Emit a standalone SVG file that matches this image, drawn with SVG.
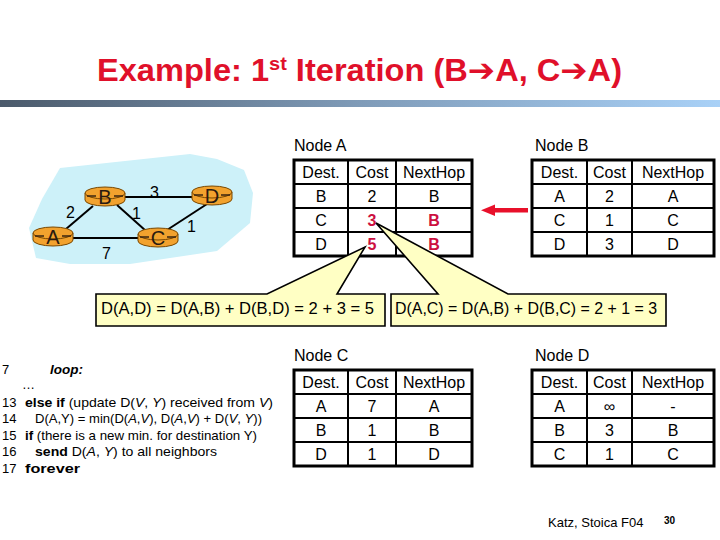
<svg xmlns="http://www.w3.org/2000/svg" width="720" height="540" viewBox="0 0 720 540">
<defs>
<linearGradient id="bar" x1="0" y1="0" x2="1" y2="0">
<stop offset="0" stop-color="#4b5a6b"/>
<stop offset="0.5" stop-color="#7f9bb8"/>
<stop offset="1" stop-color="#a9d1f7"/>
</linearGradient>
<style>
text{font-family:"Liberation Sans",Arial,sans-serif;fill:#000}
.t{font-size:16px;text-anchor:middle}
.r{font-size:16px;text-anchor:middle;font-weight:bold;fill:#cc1040}
.lbl{font-size:16px}
.outer{fill:#fff;stroke:#000;stroke-width:3}
.inner{stroke:#000;stroke-width:2}
.code{font-size:13px}
.link{stroke:#000;stroke-width:2;fill:none}
.rt{fill:#f2a22e;stroke:#7a4800;stroke-width:1}
.rl{font-size:20px;text-anchor:middle;fill:#2a1a10}
.dash{stroke:#3a2410;stroke-width:1.5}
.callout{fill:#ffffc4;stroke:#000;stroke-width:1.6}
</style>
</defs>
<rect width="720" height="540" fill="#fff"/>

<g id="title">
<text x="97" y="81" font-size="31" font-weight="bold" style="fill:#e0102a" textLength="525" lengthAdjust="spacingAndGlyphs">Example: 1<tspan font-size="19" dy="-11">st</tspan><tspan dy="11"> Iteration (B</tspan><tspan font-family="DejaVu Sans">➔</tspan>A, C<tspan font-family="DejaVu Sans">➔</tspan>A)</text>
<rect x="0" y="100" width="720" height="7" fill="url(#bar)"/>
</g>

<g id="network">
<path d="M60,168 L190,154 L217,159 L244,170 L253,193 L250,223 L217,251 L130,264 L70,264 L36,258 L29,228 L42,199 Z" fill="#cdf1f9"/>
<g id="links">
<line class="link" x1="66" y1="229" x2="93" y2="206"/>
<line class="link" x1="125" y1="197" x2="193" y2="197"/>
<line class="link" x1="117" y1="205" x2="146" y2="231"/>
<line class="link" x1="72" y1="238" x2="139" y2="238"/>
<line class="link" x1="167" y1="230" x2="207" y2="204"/>
</g>
<g id="router-A">
<path class="rt" d="M33,233 L33,240 A20,6 0 0 0 73,240 L73,233 Z"/>
<ellipse class="rt" cx="53" cy="233" rx="20" ry="6"/>
<line class="dash" x1="35" y1="236" x2="44" y2="236"/><line class="dash" x1="62" y1="236" x2="71" y2="236"/>
<text class="rl" x="53" y="244">A</text>
</g>
<g id="router-B">
<path class="rt" d="M85,193 L85,200 A20,6 0 0 0 125,200 L125,193 Z"/>
<ellipse class="rt" cx="105" cy="193" rx="20" ry="6"/>
<line class="dash" x1="87" y1="196" x2="96" y2="196"/><line class="dash" x1="114" y1="196" x2="123" y2="196"/>
<text class="rl" x="105" y="204">B</text>
</g>
<g id="router-C">
<path class="rt" d="M138,234 L138,241 A20,6 0 0 0 178,241 L178,234 Z"/>
<ellipse class="rt" cx="158" cy="234" rx="20" ry="6"/>
<line class="dash" x1="140" y1="237" x2="149" y2="237"/><line class="dash" x1="167" y1="237" x2="176" y2="237"/>
<text class="rl" x="158" y="245">C</text>
</g>
<g id="router-D">
<path class="rt" d="M192,192 L192,199 A20,6 0 0 0 232,199 L232,192 Z"/>
<ellipse class="rt" cx="212" cy="192" rx="20" ry="6"/>
<line class="dash" x1="194" y1="195" x2="203" y2="195"/><line class="dash" x1="221" y1="195" x2="230" y2="195"/>
<text class="rl" x="212" y="203">D</text>
</g>
<g id="weights">
<text class="lbl" x="66" y="218">2</text>
<text class="lbl" x="150" y="198">3</text>
<text class="lbl" x="132" y="219">1</text>
<text class="lbl" x="187" y="232">1</text>
<text class="lbl" x="102" y="259">7</text>
</g>
</g>

<g id="table-A">
<text class="lbl" x="294" y="151">Node A</text>
<rect class="outer" x="294" y="160" width="178" height="96"/>
<line class="inner" x1="294" y1="184" x2="472" y2="184"/>
<line class="inner" x1="294" y1="208" x2="472" y2="208"/>
<line class="inner" x1="294" y1="232" x2="472" y2="232"/>
<line class="inner" x1="348" y1="160" x2="348" y2="256"/>
<line class="inner" x1="396" y1="160" x2="396" y2="256"/>
<text class="t" x="321" y="178">Dest.</text><text class="t" x="372" y="178">Cost</text><text class="t" x="434" y="178">NextHop</text>
<text class="t" x="321" y="202">B</text><text class="t" x="372" y="202">2</text><text class="t" x="434" y="202">B</text>
<text class="t" x="321" y="226">C</text><text class="r" x="372" y="226">3</text><text class="r" x="434" y="226">B</text>
<text class="t" x="321" y="250">D</text><text class="r" x="372" y="250">5</text><text class="r" x="434" y="250">B</text>
</g>

<g id="table-B">
<text class="lbl" x="535" y="151">Node B</text>
<rect class="outer" x="532" y="160" width="182" height="96"/>
<line class="inner" x1="532" y1="184" x2="714" y2="184"/>
<line class="inner" x1="532" y1="208" x2="714" y2="208"/>
<line class="inner" x1="532" y1="232" x2="714" y2="232"/>
<line class="inner" x1="587" y1="160" x2="587" y2="256"/>
<line class="inner" x1="632" y1="160" x2="632" y2="256"/>
<text class="t" x="559.5" y="178">Dest.</text><text class="t" x="609.5" y="178">Cost</text><text class="t" x="673" y="178">NextHop</text>
<text class="t" x="559.5" y="202">A</text><text class="t" x="609.5" y="202">2</text><text class="t" x="673" y="202">A</text>
<text class="t" x="559.5" y="226">C</text><text class="t" x="609.5" y="226">1</text><text class="t" x="673" y="226">C</text>
<text class="t" x="559.5" y="250">D</text><text class="t" x="609.5" y="250">3</text><text class="t" x="673" y="250">D</text>
</g>

<g id="table-C">
<text class="lbl" x="294" y="361">Node C</text>
<rect class="outer" x="294" y="370" width="178" height="96"/>
<line class="inner" x1="294" y1="394" x2="472" y2="394"/>
<line class="inner" x1="294" y1="418" x2="472" y2="418"/>
<line class="inner" x1="294" y1="442" x2="472" y2="442"/>
<line class="inner" x1="348" y1="370" x2="348" y2="466"/>
<line class="inner" x1="396" y1="370" x2="396" y2="466"/>
<text class="t" x="321" y="388">Dest.</text><text class="t" x="372" y="388">Cost</text><text class="t" x="434" y="388">NextHop</text>
<text class="t" x="321" y="412">A</text><text class="t" x="372" y="412">7</text><text class="t" x="434" y="412">A</text>
<text class="t" x="321" y="436">B</text><text class="t" x="372" y="436">1</text><text class="t" x="434" y="436">B</text>
<text class="t" x="321" y="460">D</text><text class="t" x="372" y="460">1</text><text class="t" x="434" y="460">D</text>
</g>

<g id="table-D">
<text class="lbl" x="535" y="361">Node D</text>
<rect class="outer" x="532" y="370" width="182" height="96"/>
<line class="inner" x1="532" y1="394" x2="714" y2="394"/>
<line class="inner" x1="532" y1="418" x2="714" y2="418"/>
<line class="inner" x1="532" y1="442" x2="714" y2="442"/>
<line class="inner" x1="587" y1="370" x2="587" y2="466"/>
<line class="inner" x1="632" y1="370" x2="632" y2="466"/>
<text class="t" x="559.5" y="388">Dest.</text><text class="t" x="609.5" y="388">Cost</text><text class="t" x="673" y="388">NextHop</text>
<text class="t" x="559.5" y="412">A</text><text class="t" x="609.5" y="412">∞</text><text class="t" x="673" y="412">-</text>
<text class="t" x="559.5" y="436">B</text><text class="t" x="609.5" y="436">3</text><text class="t" x="673" y="436">B</text>
<text class="t" x="559.5" y="460">C</text><text class="t" x="609.5" y="460">1</text><text class="t" x="673" y="460">C</text>
</g>

<g id="connectors">
<rect x="493" y="208" width="35" height="4.5" fill="#e8102a"/>
<polygon points="481,210.2 495,204.5 495,216" fill="#e8102a"/>
</g>

<g id="callout-AD">
<path class="callout" d="M96,294 L267,294 L365,247 L337,294 L385,294 L385,326 L96,326 Z"/>
<text x="101" y="314" font-size="16" textLength="273" lengthAdjust="spacingAndGlyphs">D(A,D) = D(A,B) + D(B,D) = 2 + 3 = 5</text>
</g>
<g id="callout-AC">
<path class="callout" d="M391,294 L438,294 L376,223 L508,294 L666,294 L666,326 L391,326 Z"/>
<text x="395" y="314" font-size="16" textLength="262" lengthAdjust="spacingAndGlyphs">D(A,C) = D(A,B) + D(B,C) = 2 + 1 = 3</text>
</g>

<g id="pseudocode">
<text class="code" x="2" y="374">7</text>
<text class="code" x="50" y="374" font-weight="bold" font-style="italic" textLength="33" lengthAdjust="spacingAndGlyphs">loop:</text>
<text class="code" x="22" y="389">…</text>
<text class="code" x="2" y="407">13</text>
<text class="code" x="25" y="407" textLength="248" lengthAdjust="spacingAndGlyphs"><tspan font-weight="bold">else if</tspan> (update D(<tspan font-style="italic">V</tspan>, <tspan font-style="italic">Y</tspan>) received from <tspan font-style="italic">V</tspan>)</text>
<text class="code" x="2" y="423">14</text>
<text class="code" x="35" y="423" textLength="227" lengthAdjust="spacingAndGlyphs">D(A,Y) = min(D(<tspan font-style="italic">A</tspan>,<tspan font-style="italic">V</tspan>), D(<tspan font-style="italic">A</tspan>,<tspan font-style="italic">V</tspan>) + D(<tspan font-style="italic">V</tspan>, <tspan font-style="italic">Y</tspan>))</text>
<text class="code" x="2" y="440">15</text>
<text class="code" x="25" y="440" textLength="232" lengthAdjust="spacingAndGlyphs"><tspan font-weight="bold">if</tspan> (there is a new min. for destination Y)</text>
<text class="code" x="2" y="456">16</text>
<text class="code" x="35" y="456" textLength="182" lengthAdjust="spacingAndGlyphs"><tspan font-weight="bold">send</tspan> D(<tspan font-style="italic">A</tspan>, <tspan font-style="italic">Y</tspan>) to all neighbors</text>
<text class="code" x="2" y="473">17</text>
<text class="code" x="25" y="473" font-weight="bold" textLength="55" lengthAdjust="spacingAndGlyphs">forever</text>
</g>

<g id="footer">
<text x="548" y="527" font-size="13">Katz, Stoica F04</text>
<text x="664" y="524" font-size="10" font-weight="bold" font-family="Liberation Serif,serif">30</text>
</g>
</svg>
